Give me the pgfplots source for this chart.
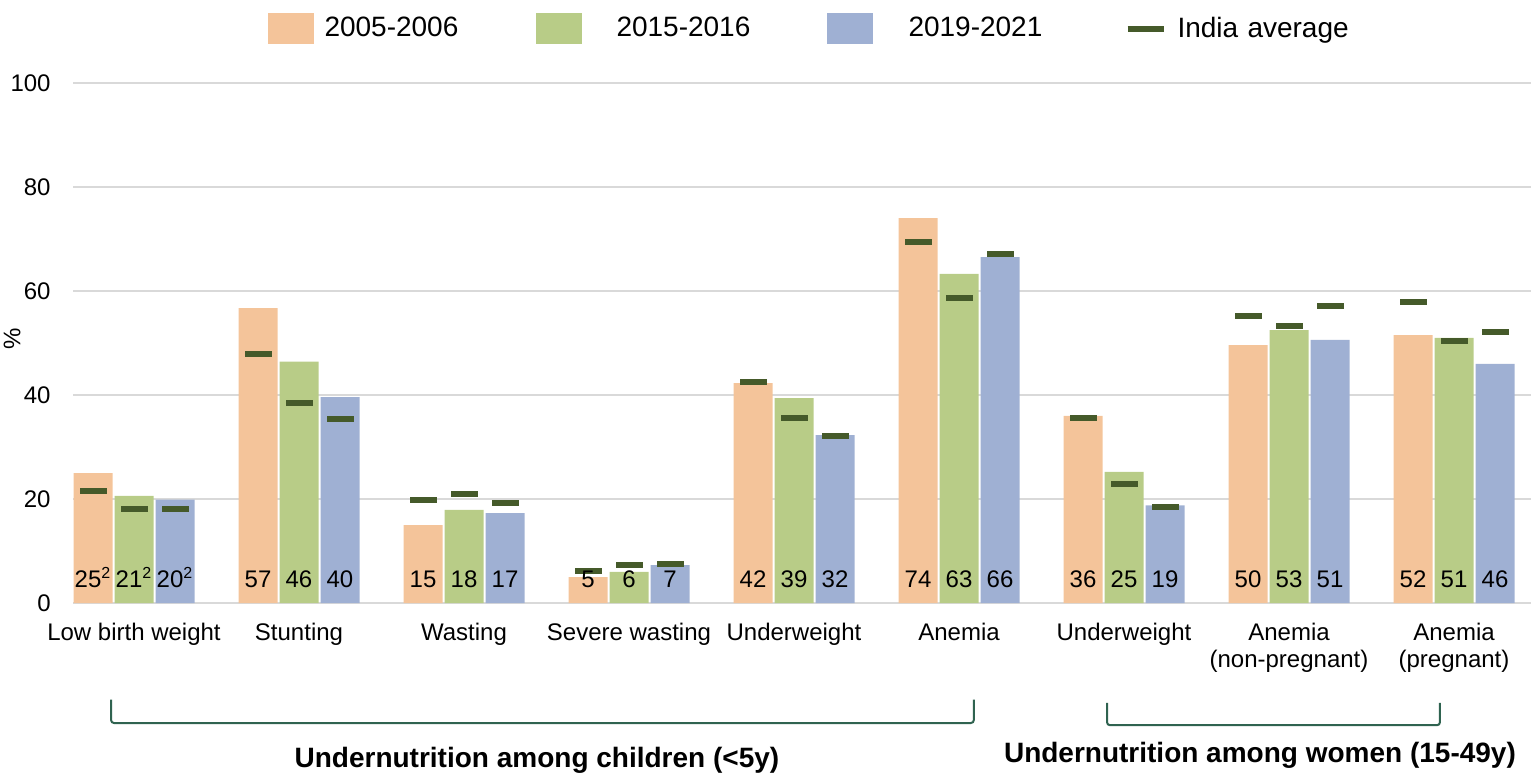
\documentclass[border=0pt]{standalone}
\usepackage{fontspec}
\setmainfont{Liberation Sans}
\usepackage{pgfplots}
\pgfplotsset{compat=1.18}
\usepackage{pgfplotstable}
\definecolor{cA}{HTML}{F4C49A}
\definecolor{cB}{HTML}{B8CC87}
\definecolor{cC}{HTML}{9FB0D3}
\definecolor{avgc}{HTML}{455A2A}
\definecolor{gridc}{HTML}{D9D9D9}
\definecolor{brc}{HTML}{2F6350}

\pgfplotstableread{
x A B C avgA avgB avgC
0 25.0 20.6 19.9 21.6 18.1 18.1
1 56.7 46.4 39.6 47.9 38.5 35.4
2 15.0 17.9 17.3 19.8 21.0 19.3
3 5.0 6.0 7.3 6.2 7.3 7.5
4 42.3 39.4 32.3 42.5 35.6 32.1
5 74.0 63.3 66.5 69.4 58.7 67.1
6 36.0 25.2 18.8 35.6 22.9 18.5
7 49.6 52.5 50.6 55.2 53.3 57.1
8 51.5 51.0 46.0 57.9 50.4 52.1
}\data

\begin{document}
\begin{tikzpicture}[font=\fontsize{12}{13.5}\selectfont]
\begin{axis}[
  name=ax, scale only axis, width=729pt, height=260pt,
  xmin=-0.3697, xmax=8.4667, ymin=0, ymax=100,
  axis line style={draw=none}, major tick length=0pt,
  ytick={0,20,...,100}, ymajorgrids, grid style={color=gridc, line width=1pt},
  xtick={0,...,8},
  xticklabels={Low birth weight, Stunting, Wasting, Severe wasting, Underweight, Anemia, Underweight, {Anemia\\(non-pregnant)}, {Anemia\\(pregnant)}},
  tick label style={font=\fontsize{12}{13.5}\selectfont},
  xticklabel style={anchor=north, inner sep=0pt, yshift=-10pt, align=center},
  yticklabel style={anchor=east, inner sep=0pt, xshift=-11pt},
  /pgf/number format/assume math mode=true,
  ylabel={\%}, ylabel style={at={(axis description cs:-0.0418,0.508)}, anchor=center, font=\fontsize{12}{13.5}\selectfont},
  clip=false,
  legend columns=4,
  legend style={at={(axis description cs:0.5,1)}, anchor=center, xshift=6.5pt, yshift=27.25pt, draw=none, fill=none,
    font=\fontsize{14}{16}\selectfont, cells={anchor=west}, nodes={inner sep=0pt, text width=105pt, align=left}},
]
\addplot[ybar, bar width=19.5pt, bar shift=-20.5pt, fill=cA, draw=none,
  legend image code/.code={\path[draw=none,fill=none] (0pt,0pt) -- (41pt,0pt); \fill[cA, draw=none] (12.5pt,-7.75pt) rectangle (35.5pt,7.75pt);}]
  table[x=x,y=A]{\data};
\addplot[ybar, bar width=19.5pt, bar shift=0pt, fill=cB, draw=none,
  legend image code/.code={\path[draw=none,fill=none] (0pt,0pt) -- (41pt,0pt); \fill[cB, draw=none] (0.75pt,-7.75pt) rectangle (23.75pt,7.75pt);}]
  table[x=x,y=B]{\data};
\addplot[ybar, bar width=19.5pt, bar shift=20.5pt, fill=cC, draw=none,
  legend image code/.code={\path[draw=none,fill=none] (0pt,0pt) -- (41pt,0pt); \fill[cC, draw=none] (0pt,-7.75pt) rectangle (23pt,7.75pt);}]
  table[x=x,y=C]{\data};
\addplot[only marks, mark=-, mark size=6.75pt, mark options={line width=3pt, color=avgc},
  legend image code/.code={\path[draw=none,fill=none] (0pt,0pt) -- (29.5pt,0pt); \draw[line width=3pt, avgc] (4.5pt,0pt) -- (22.5pt,0pt);}]
  table[x expr=\thisrow{x}-0.24848, y=avgA]{\data};
\addplot[forget plot, only marks, mark=-, mark size=6.75pt, mark options={line width=3pt, color=avgc}]
  table[x=x, y=avgB]{\data};
\addplot[forget plot, only marks, mark=-, mark size=6.75pt, mark options={line width=3pt, color=avgc}]
  table[x expr=\thisrow{x}+0.24848, y=avgC]{\data};

\addplot[forget plot, only marks, mark=none, nodes near coords, point meta=explicit symbolic,
  every node near coord/.style={anchor=base, inner sep=0pt, yshift=8pt, font=\fontsize{12}{13}\selectfont}]
  coordinates {(-0.24848,0) [25\textsuperscript{2}] (0.75152,0) [57] (1.75152,0) [15] (2.75152,0) [5] (3.75152,0) [42] (4.75152,0) [74] (5.75152,0) [36] (6.75152,0) [50] (7.75152,0) [52]};
\addplot[forget plot, only marks, mark=none, nodes near coords, point meta=explicit symbolic,
  every node near coord/.style={anchor=base, inner sep=0pt, yshift=8pt, font=\fontsize{12}{13}\selectfont}]
  coordinates {(0,0) [21\textsuperscript{2}] (1,0) [46] (2,0) [18] (3,0) [6] (4,0) [39] (5,0) [63] (6,0) [25] (7,0) [53] (8,0) [51]};
\addplot[forget plot, only marks, mark=none, nodes near coords, point meta=explicit symbolic,
  every node near coord/.style={anchor=base, inner sep=0pt, yshift=8pt, font=\fontsize{12}{13}\selectfont}]
  coordinates {(0.24848,0) [20\textsuperscript{2}] (1.24848,0) [40] (2.24848,0) [17] (3.24848,0) [7] (4.24848,0) [32] (5.24848,0) [66] (6.24848,0) [19] (7.24848,0) [51] (8.24848,0) [46]};

\legend{2005-2006, 2015-2016, 2019-2021, India average}

\draw[brc, line width=1pt, rounded corners=1.5pt] (axis cs:-0.139,-18.56) -- (axis cs:-0.139,-23.08) -- (axis cs:5.09,-23.08) -- (axis cs:5.09,-18.56);
\draw[brc, line width=1pt, rounded corners=1.5pt] (axis cs:5.897,-19.2) -- (axis cs:5.897,-23.5) -- (axis cs:7.915,-23.5) -- (axis cs:7.915,-19.2);
\node[font=\bfseries\fontsize{14}{16}\selectfont] at (axis cs:2.442,-30.2) {Undernutrition among children (<5y)};
\node[font=\bfseries\fontsize{14}{16}\selectfont] at (axis cs:6.824,-29.3) {Undernutrition among women (15-49y)};
\end{axis}
\pgfresetboundingbox
\path[use as bounding box] ([xshift=-36.5pt,yshift=-85pt]ax.south west) rectangle ([yshift=41.5pt]ax.north east);
\end{tikzpicture}
\end{document}
